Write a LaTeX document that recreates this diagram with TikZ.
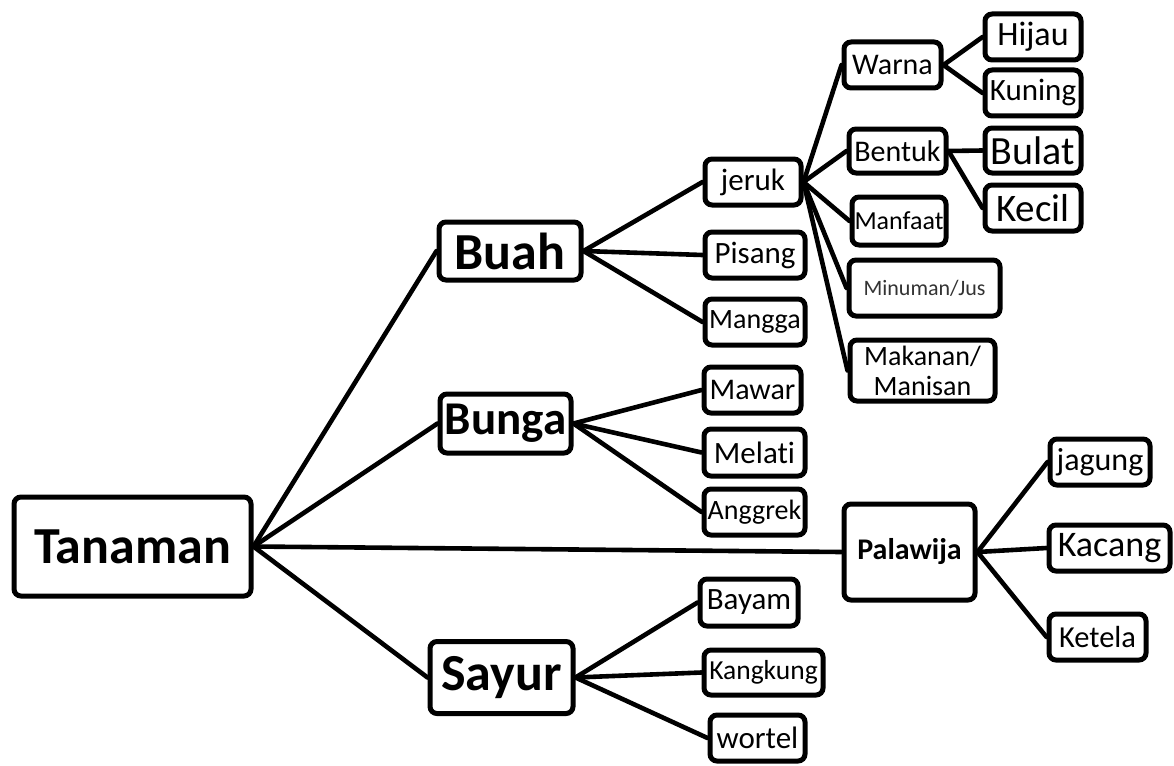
\documentclass[tikz,border=0pt]{standalone}
\usepackage{fontspec}
\setmainfont{Carlito}[Ligatures=NoCommon]
\newcommand{\fs}[1]{\fontsize{#1}{#1}\selectfont}
\begin{document}
\begin{tikzpicture}[x=1pt,y=-1pt,
  box/.style={draw=black, line width=5pt, rounded corners=7pt, fill=white,
    inner sep=0pt, align=center, text=black},
  link/.style={line width=4.6pt, line cap=round}]
\useasboundingbox (0,0) rectangle (1174,765);
% level 0
\node[box, minimum width=237, minimum height=99, font=\fs{52}\bfseries] (tan) at (132.5,546.5) {Tanaman};
% level 1
\node[box, minimum width=142, minimum height=58, font=\fs{52}\bfseries] (buah) at (510,251) {Buah};
\node[box, minimum width=131, minimum height=59, font=\fs{47}\bfseries] (bunga) at (505.5,423.5) {Bunga};
\node[box, minimum width=143, minimum height=72, font=\fs{52}\bfseries] (sayur) at (501.5,677.5) {Sayur};
\node[box, minimum width=131, minimum height=96, font=\fs{30}\bfseries] (pala) at (909.5,552) {Palawija};
% level 2
\node[box, minimum width=96, minimum height=46, font=\fs{31}] (jeruk) at (753,182) {jeruk};
\node[box, minimum width=100, minimum height=46, font=\fs{31}] (pisang) at (755,255) {Pisang};
\node[box, minimum width=100, minimum height=46, font=\fs{28}] (mangga) at (755,322) {Mangga};
\node[box, minimum width=97, minimum height=46, font=\fs{30}] (mawar) at (752.5,390) {Mawar};
\node[box, minimum width=101, minimum height=47, font=\fs{31}] (melati) at (754.5,452.5) {Melati};
\node[box, minimum width=101, minimum height=46, font=\fs{28}] (anggrek) at (754.5,512) {Anggrek};
\node[box, minimum width=98, minimum height=47, font=\fs{31}] (bayam) at (749,602.5) {Bayam};
\node[box, minimum width=119, minimum height=45, font=\fs{27.5}] (kangkung) at (763.5,672.5) {Kangkung};
\node[box, minimum width=95, minimum height=46, font=\fs{31}] (wortel) at (757.5,738) {wortel};
\node[box, minimum width=100, minimum height=46, font=\fs{32}] (jagung) at (1100,462) {jagung};
\node[box, minimum width=121, minimum height=46, font=\fs{36}] (kacang) at (1109.5,548) {Kacang};
\node[box, minimum width=97, minimum height=46, font=\fs{30.5}] (ketela) at (1097.5,637) {Ketela};
% level 3
\node[box, minimum width=97, minimum height=46, font=\fs{30}] (warna) at (892.5,65) {Warna};
\node[box, minimum width=97, minimum height=44, font=\fs{30}] (bentuk) at (897.5,151) {Bentuk};
\node[box, minimum width=94, minimum height=48, font=\fs{26}] (manfaat) at (899,221) {Manfaat};
\node[box, minimum width=151, minimum height=56, font=\fs{22}, text=black!80] (minuman) at (924.5,288) {Minuman/Jus};
\node[box, minimum width=145, minimum height=61, font=\fontsize{28}{30}\selectfont] (makanan) at (922.5,370.5) {Makanan/\\Manisan};
% level 4
\node[box, minimum width=96, minimum height=46, font=\fs{34}] (hijau) at (1033,37) {Hijau};
\node[box, minimum width=96, minimum height=46, font=\fs{31}] (kuning) at (1033,93) {Kuning};
\node[box, minimum width=96, minimum height=45, font=\fs{40}] (bulat) at (1033,150.5) {Bulat};
\node[box, minimum width=96, minimum height=46, font=\fs{39}] (kecil) at (1033,208) {Kecil};
% connectors
\foreach \a/\b in {tan/buah, tan/bunga, tan/sayur, tan/pala,
  buah/jeruk, buah/pisang, buah/mangga,
  bunga/mawar, bunga/melati, bunga/anggrek,
  sayur/bayam, sayur/kangkung, sayur/wortel,
  pala/jagung, pala/kacang, pala/ketela,
  jeruk/warna, jeruk/bentuk, jeruk/manfaat, jeruk/minuman, jeruk/makanan,
  warna/hijau, warna/kuning, bentuk/bulat, bentuk/kecil}
  \draw[link] (\a.east) -- (\b.west);
\end{tikzpicture}
\end{document}
